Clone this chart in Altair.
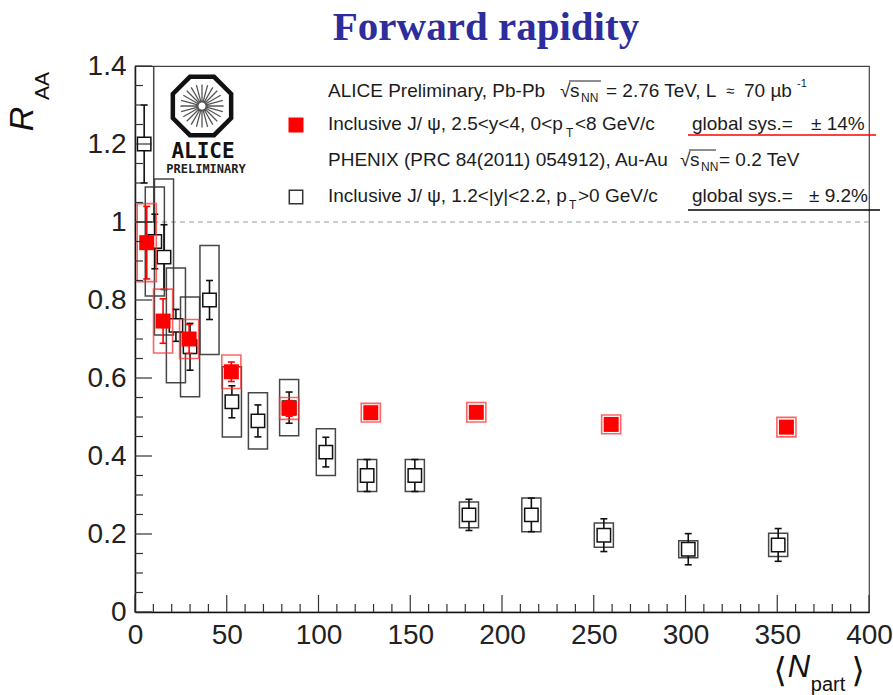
import altair as alt
import pandas as pd
import math

# ---------------- data ----------------
alice_npart = [355, 259.5, 186, 128.5, 84, 52.5, 29.5, 15.3, 6.4]
alice_raa = [0.474, 0.481, 0.512, 0.511, 0.522, 0.616, 0.700, 0.746, 0.947]
alice_stat = [0.008, 0.008, 0.010, 0.012, 0.020, 0.025, 0.037, 0.057, 0.093]
alice_syst = [0.025, 0.024, 0.025, 0.024, 0.028, 0.043, 0.050, 0.082, 0.100]

phenix_npart = [350.5, 301.5, 255.5, 216, 182, 152.5, 126.5, 104, 84, 67, 52.8,
                40.6, 30, 22.3, 15.8, 10.8, 5.0]
phenix_raa = [0.172, 0.161, 0.197, 0.249, 0.249, 0.350, 0.350, 0.410, 0.524, 0.490,
              0.539, 0.800, 0.680, 0.735, 0.910, 0.950, 1.200]
phenix_stat = [0.042, 0.040, 0.042, 0.043, 0.040, 0.041, 0.041, 0.038, 0.040, 0.041,
               0.041, 0.050, 0.060, 0.041, 0.083, 0.070, 0.100]
phenix_syst = [0.030, 0.022, 0.031, 0.043, 0.033, 0.041, 0.041, 0.060, 0.072, 0.072,
               0.090, 0.140, 0.128, 0.147, 0.200, 0.140, 0.200]

x_major = [0, 50, 100, 150, 200, 250, 300, 350, 400]
x_minor = [v for v in range(0, 401, 10) if v % 50 != 0]
y_major = [0, 0.2, 0.4, 0.6, 0.8, 1.0, 1.2, 1.4]
y_minor = [round(0.05 * k, 2) for k in range(29) if k % 4 != 0]

# ---------------- layout ----------------
W, H = 734, 546
OX, OY = 135, 66
BOX_HALF = 5.2

alice = pd.DataFrame(dict(npart=alice_npart, raa=alice_raa, stat=alice_stat, syst=alice_syst))
phenix = pd.DataFrame(dict(npart=phenix_npart, raa=phenix_raa, stat=phenix_stat, syst=phenix_syst))
one = pd.DataFrame({"a": [0]})

xs = alt.Scale(domain=[0, 400], nice=False, zero=False)
ys = alt.Scale(domain=[0, 1.4], nice=False, zero=False)
LABEL_FONT = "Liberation Sans"
xax = alt.Axis(values=x_major, title=None, ticks=False, grid=False, labelFont=LABEL_FONT,
               labelFontSize=28, labelColor="#222222", labelPadding=9, labelFlush=False,
               labelOverlap=False, domainColor="#111111", domainWidth=1.5, format="d")
yax = alt.Axis(values=y_major, title=None, ticks=False, grid=False, labelFont=LABEL_FONT,
               labelFontSize=28, labelColor="#222222", labelPadding=9, labelFlush=False,
               labelOverlap=False, domainColor="#111111", domainWidth=1.5, format=".1~f")


def X(f):
    return alt.X(f, scale=xs, axis=xax)


def Y(f):
    return alt.Y(f, scale=ys, axis=yax)


def boxes(df, color, width, opacity):
    return alt.Chart(df).transform_calculate(
        bx1=f"datum.npart - {BOX_HALF}", bx2=f"datum.npart + {BOX_HALF}",
        by1="datum.raa - datum.syst", by2="min(datum.raa + datum.syst, 1.4)"
    ).mark_rect(fill="white", fillOpacity=0, stroke=color, strokeWidth=width,
                strokeOpacity=opacity, clip=True).encode(
        x=X("bx1:Q"), x2="bx2:Q", y=Y("by1:Q"), y2="by2:Q")


def statbars(df, color):
    base = alt.Chart(df).transform_calculate(
        lo="datum.raa - datum.stat", hi="datum.raa + datum.stat")
    bar = base.mark_rule(color=color, strokeWidth=1.6).encode(
        x=X("npart:Q"), y=Y("lo:Q"), y2="hi:Q")
    caps = base.transform_fold(["lo", "hi"], as_=["end", "val"]).mark_tick(
        orient="horizontal", color=color, size=7, thickness=1.6, opacity=1).encode(
        x=X("npart:Q"), y=Y("val:Q"))
    return [bar, caps]


def txt(s, x, y, size, align="left", font=LABEL_FONT, color="#1c1c1c", **kw):
    return alt.Chart(one).mark_text(text=s, fontSize=size, align=align, baseline="middle",
                                    font=font, color=color, **kw).encode(
        x=alt.value(x - OX), y=alt.value(y - OY))


layers = []

# reference line at R_AA = 1
layers.append(alt.Chart(pd.DataFrame({"v": [1.0]})).mark_rule(
    color="#9a9a9a", strokeWidth=1, strokeDash=[5, 4]).encode(
    y=Y("v:Q"), x=alt.value(0), x2=alt.value(W)))

# PHENIX
layers.append(boxes(phenix, "#333333", 1.5, 0.9))
layers += statbars(phenix, "#111111")
layers.append(alt.Chart(phenix).mark_square(size=180, fill="white", stroke="#111111",
                                            strokeWidth=1.5, opacity=1).encode(
    x=X("npart:Q"), y=Y("raa:Q")))

# ALICE
layers.append(boxes(alice, "#ff3030", 1.6, 0.75))
layers += statbars(alice, "#ff0000")
layers.append(alt.Chart(alice).mark_square(size=225, color="#ff0000", opacity=1).encode(
    x=X("npart:Q"), y=Y("raa:Q")))

# inward ticks (ROOT style)
layers.append(alt.Chart(pd.DataFrame({"t": x_major})).mark_rule(color="#333333", strokeWidth=1.2).encode(
    x=X("t:Q"), y=alt.value(H), y2=alt.value(H - 17)))
layers.append(alt.Chart(pd.DataFrame({"t": x_minor})).mark_rule(color="#333333", strokeWidth=1.2).encode(
    x=X("t:Q"), y=alt.value(H), y2=alt.value(H - 8)))
layers.append(alt.Chart(pd.DataFrame({"t": y_major})).mark_rule(color="#333333", strokeWidth=1.2).encode(
    y=Y("t:Q"), x=alt.value(0), x2=alt.value(17)))
layers.append(alt.Chart(pd.DataFrame({"t": y_minor})).mark_rule(color="#333333", strokeWidth=1.2).encode(
    y=Y("t:Q"), x=alt.value(0), x2=alt.value(8)))

# legend markers
layers.append(alt.Chart(one).mark_square(size=225, color="#ff0000", opacity=1).encode(
    x=alt.value(296 - OX), y=alt.value(125 - OY)))
layers.append(alt.Chart(one).mark_square(size=180, fill="white", stroke="#333333",
                                         strokeWidth=1.5, opacity=1).encode(
    x=alt.value(296 - OX), y=alt.value(197 - OY)))

LS = 19
SUB = 12
# legend line 1
layers += [
    txt("ALICE Preliminary, Pb-Pb", 328, 91, LS),
    txt("√", 560, 91, LS),
    txt("s", 570, 91, LS),
    txt("NN", 581, 98, SUB),
    txt("= 2.76 TeV, L", 606, 91, LS),
    txt("≈", 726, 91, 15),
    txt("70 µb", 744, 91, LS),
    txt("-1", 797, 84, 11),
]
# legend line 2
layers += [
    txt("Inclusive J/ ψ, 2.5<y<4, 0<p", 328, 124, LS),
    txt("T", 566, 133, SUB),
    txt("<8 GeV/c", 575, 124, LS),
    txt("global sys.=", 692, 124, LS),
    txt("± 14%", 811, 124, LS),
]
# legend line 3
layers += [
    txt("PHENIX (PRC 84(2011) 054912), Au-Au", 328, 160, LS),
    txt("√", 680, 160, LS),
    txt("s", 690, 160, LS),
    txt("NN", 701, 167, SUB),
    txt("= 0.2 TeV", 719, 160, LS),
]
# legend line 4
layers += [
    txt("Inclusive J/ ψ, 1.2<|y|<2.2, p", 328, 196, LS),
    txt("T", 569, 205, SUB),
    txt(">0 GeV/c", 578, 196, LS),
    txt("global sys.=", 692, 196, LS),
    txt("± 9.2%", 809, 196, LS),
]
# sqrt overlines
for x1, x2, yy in [(569, 601, 81), (689, 716, 150)]:
    layers.append(alt.Chart(one).mark_rule(color="#1c1c1c", strokeWidth=1).encode(
        x=alt.value(x1 - OX), x2=alt.value(x2 - OX), y=alt.value(yy - OY)))
# underlines of global systematics
layers.append(alt.Chart(one).mark_rule(color="#ff0000", strokeWidth=1.5).encode(
    x=alt.value(688 - OX), x2=alt.value(876 - OX), y=alt.value(135 - OY)))
layers.append(alt.Chart(one).mark_rule(color="#000000", strokeWidth=1.5).encode(
    x=alt.value(688 - OX), x2=alt.value(880 - OX), y=alt.value(210 - OY)))

# ALICE logo
octagon = "M-0.414,-1L0.414,-1L1,-0.414L1,0.414L0.414,1L-0.414,1L-1,0.414L-1,-0.414Z"
spokes = ""
for k in range(24):
    a = 2 * math.pi * k / 24
    spokes += "M%.3f,%.3fL%.3f,%.3f" % (0.12 * math.cos(a), 0.12 * math.sin(a),
                                        0.74 * math.cos(a), 0.74 * math.sin(a))
layers.append(alt.Chart(one).mark_point(shape=octagon, size=3400, stroke="#111111",
                                        strokeWidth=4.5, filled=False, opacity=1).encode(
    x=alt.value(202 - OX), y=alt.value(106 - OY)))
layers.append(alt.Chart(one).mark_point(shape=spokes, size=3400, stroke="#555555",
                                        strokeWidth=1.3, filled=False, opacity=1).encode(
    x=alt.value(202 - OX), y=alt.value(106 - OY)))
layers.append(txt("ALICE", 203, 152, 21, align="center", font="DejaVu Sans Mono",
                  fontWeight="bold", color="#111111"))
layers.append(txt("PRELIMINARY", 206, 169, 12, align="center", font="DejaVu Sans Mono",
                  fontWeight="bold", color="#222222"))

# title
layers.append(txt("Forward rapidity", 486, 28, 41, align="center", font="Liberation Serif",
                  fontWeight="bold", color="#2d2d9c"))

# axis titles
layers.append(txt("R", 23, 119, 34, align="center", font=LABEL_FONT, fontStyle="italic",
                  angle=270, color="#111111"))
layers.append(txt("AA", 43, 86, 21, align="center", font=LABEL_FONT, angle=270, color="#111111"))
layers.append(txt("⟨", 780, 672, 34, align="center", font="DejaVu Sans", color="#111111"))
layers.append(txt("N", 799, 668, 31, align="center", font=LABEL_FONT, fontStyle="italic",
                  color="#111111"))
layers.append(txt("part", 828, 685, 20, align="center", font=LABEL_FONT, color="#111111"))
layers.append(txt("⟩", 858, 672, 34, align="center", font="DejaVu Sans", color="#111111"))

chart = alt.layer(*layers).properties(
    width=W, height=H,
    autosize=alt.AutoSizeParams(type="none"),
    padding={"left": OX, "top": OY, "right": 893 - OX - W, "bottom": 695 - OY - H},
    background="white",
).configure_view(stroke="#444444", strokeWidth=1.2)

chart.save("out.html", embed_options={"renderer": "svg", "actions": False})
